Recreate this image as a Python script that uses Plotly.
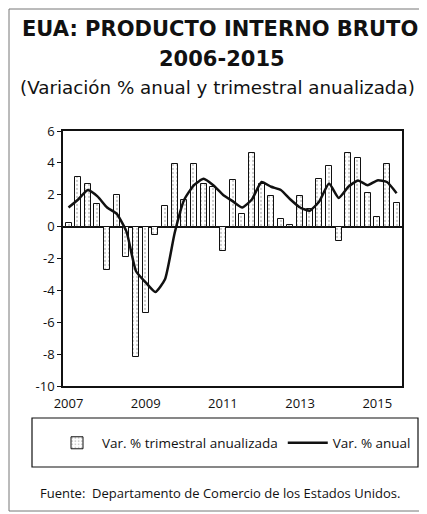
import plotly.graph_objects as go

# Quarters 2007Q1 .. 2015Q3
years = [2007]*4 + [2008]*4 + [2009]*4 + [2010]*4 + [2011]*4 + [2012]*4 + [2013]*4 + [2014]*4 + [2015]*3
quarters = [1, 2, 3, 4]*8 + [1, 2, 3]

# Var. % trimestral anualizada
trimestral = [0.2, 3.1, 2.7, 1.4,
              -2.7, 2.0, -1.9, -8.2,
              -5.4, -0.5, 1.3, 3.9,
              1.7, 3.9, 2.7, 2.5,
              -1.5, 2.9, 0.8, 4.6,
              2.7, 1.9, 0.5, 0.1,
              1.9, 1.1, 3.0, 3.8,
              -0.9, 4.6, 4.3, 2.1,
              0.6, 3.9, 1.5]

# Var. % anual
anual = [1.2, 1.7, 2.3, 1.9,
         1.2, 0.8, -0.3, -2.8,
         -3.5, -4.1, -3.3, -0.4,
         1.7, 2.6, 3.0, 2.6,
         2.0, 1.6, 1.2, 1.7,
         2.8, 2.5, 2.3, 1.7,
         1.2, 1.0, 1.6, 2.7,
         1.8, 2.5, 2.9, 2.6,
         2.9, 2.8, 2.1]

x_tick_vals = [2007, 2009, 2011, 2013, 2015]
x_tick_text = ["2007", "2009", "2011", "2013", "2015"]
y_tick_vals = [6, 4, 2, 0, -2, -4, -6, -8, -10]
y_tick_text = ["6", "4", "2", "0", "-2", "-4", "-6", "-8", "-10"]

x = [y + (q - 1) * 0.25 for y, q in zip(years, quarters)]

FONT = "Open Sans"
TFONT = "DejaVu Sans"

fig = go.Figure()
fig.add_trace(go.Bar(
    x=x, y=trimestral, width=0.155,
    name="Var. % trimestral anualizada",
    marker=dict(color="white", line=dict(color="#111", width=1),
                pattern=dict(shape=".", fgcolor="#999", bgcolor="white", size=4, solidity=0.25)),
))
fig.add_trace(go.Scatter(
    x=x, y=anual, mode="lines", name="Var. % anual",
    line=dict(color="#111", width=2.5, shape="spline", smoothing=0.5),
))

OFF = 8  # browser body margin
W, H = 427 - OFF, 514 - OFF
# plot area in screen pixels
SX0, SX1, SY0, SY1 = 63, 402, 131, 386
L = SX0 - OFF
R = W - (SX1 - OFF)
T = SY0 - OFF
B = H - (SY1 - OFF)
pw, ph = W - L - R, H - T - B


def px_x(p):
    return (p - OFF - L) / pw


def px_y(p):
    return (H - B - (p - OFF)) / ph


fig.update_layout(
    width=W, height=H,
    margin=dict(l=L, r=R, t=T, b=B),
    paper_bgcolor="white", plot_bgcolor="white",
    font=dict(family=FONT, color="#111", size=12),
    bargap=0,
    showlegend=True,
    legend=dict(orientation="h", x=px_x(52), xanchor="left", y=px_y(443), yanchor="middle",
                font=dict(size=13.5, family=FONT), bgcolor="rgba(0,0,0,0)", itemwidth=40,
                traceorder="normal"),
    xaxis=dict(range=[2006.857, 2015.64], tickvals=x_tick_vals, ticktext=x_tick_text,
               showgrid=False, zeroline=False, showline=True, linecolor="#111", linewidth=1.5,
               mirror=True, ticks="", ticklabelstandoff=5,
               tickfont=dict(size=13, color="#111", family=FONT)),
    yaxis=dict(range=[-10, 6], tickvals=y_tick_vals, ticktext=y_tick_text,
               showgrid=False, zeroline=True, zerolinecolor="#111",
               zerolinewidth=1.5, showline=True, linecolor="#111", linewidth=1.5, mirror=True,
               ticks="outside", ticklen=4, tickcolor="#111",
               tickfont=dict(size=13, color="#111", family=FONT)),
    shapes=[
        dict(type="rect", xref="paper", yref="paper", x0=px_x(9), x1=px_x(424), y0=px_y(511), y1=px_y(9),
             line=dict(color="#777", width=1), layer="below"),
        dict(type="rect", xref="paper", yref="paper", x0=px_x(32), x1=px_x(418), y0=px_y(467), y1=px_y(418),
             line=dict(color="#111", width=1.2)),
    ],
    annotations=[
        dict(text="<b>EUA: PRODUCTO INTERNO BRUTO</b>", xref="paper", yref="paper",
             x=px_x(220), y=px_y(29), xanchor="center", yanchor="middle", showarrow=False,
             font=dict(size=21, family=TFONT, color="#111")),
        dict(text="<b>2006-2015</b>", xref="paper", yref="paper",
             x=px_x(222), y=px_y(59), xanchor="center", yanchor="middle", showarrow=False,
             font=dict(size=21, family=TFONT, color="#111")),
        dict(text="(Variación % anual y trimestral anualizada)", xref="paper", yref="paper",
             x=px_x(217), y=px_y(88), xanchor="center", yanchor="middle", showarrow=False,
             font=dict(size=18.3, family=TFONT, color="#111")),
        dict(text="Fuente:  Departamento de Comercio de los Estados Unidos.", xref="paper", yref="paper",
             x=px_x(220), y=px_y(493), xanchor="center", yanchor="middle", showarrow=False,
             font=dict(size=13, family=FONT, color="#111")),
    ],
)

fig.write_html("out.html")
